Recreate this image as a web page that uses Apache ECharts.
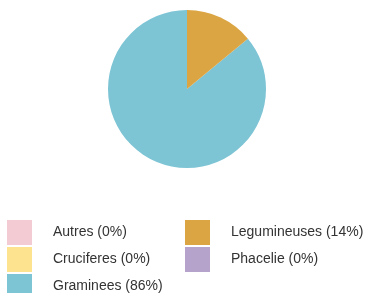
<!DOCTYPE html>
<html>
<head>
<meta charset="utf-8">
<script src="https://cdn.jsdelivr.net/npm/echarts@6/dist/echarts.min.js"></script>
<style>
  html, body { margin: 0; padding: 0; background: #fff; }
  #chart { width: 366px; height: 293px; }
</style>
</head>
<body>
<div id="chart"></div>
<script>
const names = ['Autres', 'Cruciferes', 'Graminees', 'Legumineuses', 'Phacelie']
const values = [0, 0, 86, 14, 0]
const colors = ['#f2ccd2', '#fde28f', '#7dc4d5', '#dca544', '#b5a3cc']

const myChart = echarts.init(document.getElementById('chart'))

const legendBase = {
  orient: 'vertical',
  top: 220,
  height: 100,
  padding: 0,
  itemGap: 2,
  itemWidth: 25,
  itemHeight: 25,
  icon: 'rect',
  selectedMode: false,
  formatter: function(name) {
    return name + ' (' + values[names.indexOf(name)] + '%)'
  },
  textStyle: {
    fontFamily: 'Liberation Sans, Arial, sans-serif',
    fontSize: 14,
    color: '#333',
    padding: [0, 0, 0, 16]
  }
}

myChart.setOption({
  animation: false,
  color: colors,
  legend: [
    Object.assign({}, legendBase, { left: 7, data: names.slice(0, 3) }),
    Object.assign({}, legendBase, { left: 185, data: names.slice(3) })
  ],
  series: [
    {
      type: 'pie',
      radius: 79,
      center: [187, 89],
      clockwise: false,
      startAngle: 90,
      label: { show: false },
      labelLine: { show: false },
      emphasis: { disabled: true },
      data: names.map(function(n, i) {
        return { name: n, value: values[i] }
      })
    }
  ]
})
</script>
</body>
</html>
